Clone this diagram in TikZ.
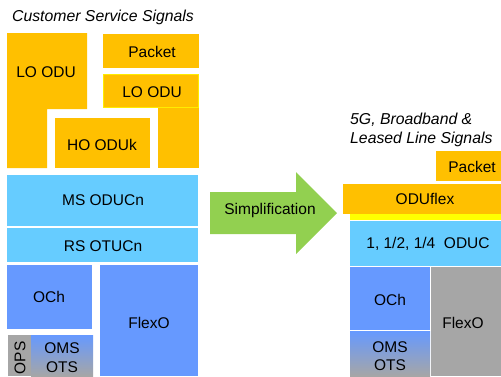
\documentclass[tikz,border=0pt]{standalone}
\usepackage{fontspec}
\setmainfont{Liberation Sans}
\definecolor{gold}{HTML}{FFC000}
\definecolor{sky}{HTML}{66CCFF}
\definecolor{cobalt}{HTML}{6699FF}
\definecolor{stone}{HTML}{A6A6A6}
\definecolor{leaf}{HTML}{92D050}
\definecolor{lemon}{HTML}{FFFF00}
\begin{document}
\begin{tikzpicture}[x=1pt,y=-1pt,
  lbl/.style={font=\fontsize{15.5}{18}\selectfont, inner sep=0pt, align=center},
  ttl/.style={font=\fontsize{15.8}{19}\selectfont\itshape, inner sep=0pt, align=left}]
\useasboundingbox[fill=white] (0,0) rectangle (501,376);

% ---------- customer service stack ----------
\node[ttl] (ttlL) at (103,17) {Customer Service Signals};

\fill[gold] (7,33) -- (87,33) -- (87,109) -- (47,109) -- (47,168) -- (7,168) -- cycle;
\node[lbl] (loduA) at (46,72) {LO ODU};

\fill[gold] (103,34) rectangle (199,68);
\node[lbl] (pktA) at (152,52) {Packet};

\fill[gold] (158,108) rectangle (199,168);
\filldraw[fill=gold, draw=lemon!70!gold, line width=0.8pt] (103.4,74.4) rectangle (198.6,107.6);
\node[lbl] (loduB) at (152,92) {LO ODU};

\fill[gold] (55,118) rectangle (150,168);
\node[lbl] (hoodu) at (102,145) {HO ODUk};

\fill[sky] (7,175) rectangle (198,226);
\node[lbl] (msodu) at (103,200) {MS ODUCn};

\fill[sky] (7,228) rectangle (198,262);
\node[lbl] (rsotu) at (103,246) {RS OTUCn};

\fill[cobalt] (7,265) rectangle (92,329);
\node[lbl] (ochA) at (49,297) {OCh};

\fill[cobalt] (100,265) rectangle (198,376);
\node[lbl] (flexA) at (149,323) {FlexO};

\shade[top color=cobalt, bottom color=stone] (31,335) rectangle (93,376);
\fill[stone] (8,335) rectangle (31,376);
\node[lbl, rotate=90] (ops) at (20,358) {OPS};
\node[lbl, font=\fontsize{15.5}{19}\selectfont] (omsA) at (62,358) {OMS\\OTS};

% ---------- simplification arrow ----------
\fill[leaf] (210,192) -- (296,192) -- (296,172) -- (337,213) -- (296,254) -- (296,234) -- (210,234) -- cycle;
\node[lbl] (simp) at (270,210) {Simplification};

% ---------- simplified stack ----------
\node[ttl, anchor=west] (ttlR) at (350,129.5) {5G, Broadband \&\\Leased Line Signals};

\fill[gold] (436,151) rectangle (501,181);
\node[lbl] (pktB) at (472,167) {Packet};

\fill[gold] (343,184) rectangle (501,214);
\node[lbl] (oduflex) at (425,199) {ODUflex};

\fill[lemon] (350,214) rectangle (501,219.5);

\fill[sky] (350,221) rectangle (501,266);
\node[lbl] (oduc) at (428,244) {1, 1/2, 1/4\ \ ODUC};

\fill[cobalt] (350,267) rectangle (430,330);
\node[lbl] (ochB) at (390,300) {OCh};

\shade[top color=cobalt, bottom color=stone] (350,331) rectangle (430,376);
\node[lbl, font=\fontsize{15.5}{17.5}\selectfont] (omsB) at (390,356) {OMS\\OTS};

\fill[stone] (431,267) rectangle (501,376);
\node[lbl] (flexB) at (463,323) {FlexO};
\end{tikzpicture}
\end{document}
